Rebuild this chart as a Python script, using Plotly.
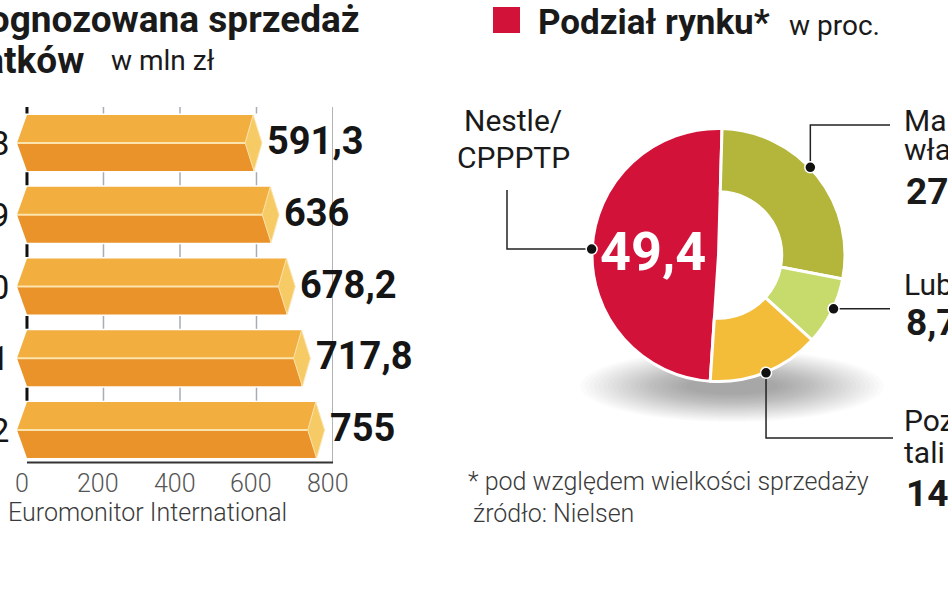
import math
import plotly.graph_objects as go

W, H = 948, 593

# ---------------- data ----------------
years = ["2008", "2009", "2010", "2011", "2012"]
sales = [591.3, 636, 678.2, 717.8, 755]
sales_text = ["591,3", "636", "678,2", "717,8", "755"]
x_ticks = [0, 200, 400, 600, 800]

share_names = ["Marki własne", "Lubella", "Pozostali", "Nestle/CPPPTP"]
share_values = [27.6, 8.7, 14.3, 49.4]
share_text = ["27,6", "8,7", "14,3", "49,4"]
share_colors = ["#B4B53B", "#C7DA6C", "#F4BD39", "#D3123A"]

# ---------------- helpers ----------------
FONT = "Roboto, 'DejaVu Sans', sans-serif"


def px(x):
    return x / W


def py(y):
    return 1 - y / H


fig = go.Figure()


def ann(text, x, y, size, anchor="left", weight="normal", color="#1a1a1a", **kw):
    fig.add_annotation(text=text, x=px(x), y=py(y), xref="paper", yref="paper",
                       xanchor=anchor, yanchor="middle", showarrow=False,
                       font=dict(family=FONT, size=size, color=color, weight=weight), **kw)


# ---------------- bar chart ----------------
TOP_C, BOT_C, CAP_C, EDGE_C = "#F2AE3F", "#E9932A", "#F6CB66", "#FCE4AE"
HALF = 0.39
idx = list(range(len(years)))

fig.add_trace(go.Bar(y=idx, x=sales, orientation="h", width=HALF, offset=-HALF,
                     marker=dict(color=TOP_C, line=dict(width=0)), hoverinfo="skip",
                     xaxis="x", yaxis="y"))
fig.add_trace(go.Bar(y=idx, x=sales, orientation="h", width=HALF, offset=0,
                     marker=dict(color=BOT_C, line=dict(width=0)), hoverinfo="skip",
                     xaxis="x", yaxis="y"))

TIP = -26      # pointed left end (data units)
CAP_OUT = 23   # cap tip beyond value
CAP_IN = 21    # cap inner vertex before value
for i, v in zip(idx, sales):
    fig.add_shape(type="path", xref="x", yref="y", layer="above", line=dict(width=0),
                  fillcolor=TOP_C, path=f"M 0 {i-HALF} L {TIP} {i} L 0 {i} Z")
    fig.add_shape(type="path", xref="x", yref="y", layer="above", line=dict(width=0),
                  fillcolor=BOT_C, path=f"M 0 {i} L {TIP} {i} L 0 {i+HALF} Z")
    fig.add_shape(type="line", xref="x", yref="y", layer="above",
                  x0=TIP, x1=v - CAP_IN, y0=i, y1=i, line=dict(color=EDGE_C, width=2))
    fig.add_shape(type="path", xref="x", yref="y", layer="above",
                  fillcolor=CAP_C, line=dict(color=EDGE_C, width=1),
                  path=f"M {v} {i-HALF} L {v+CAP_OUT} {i} L {v+2} {i+HALF} L {v-CAP_IN} {i} Z")
    fig.add_annotation(text=sales_text[i], x=v, y=i, xref="x", yref="y", xanchor="left",
                       yanchor="middle", xshift=12, yshift=2, showarrow=False,
                       font=dict(family=FONT, size=38, color="#151515", weight="bold"))
    fig.add_annotation(text=years[i], x=px(11), y=i, xref="paper", yref="y", xanchor="right",
                       yanchor="middle", showarrow=False,
                       font=dict(family=FONT, size=34, color="#151515"))

# x tick labels
for t in x_ticks:
    fig.add_annotation(text=str(t), x=t, y=py(483), xref="x", yref="paper", xanchor="center",
                       yanchor="middle", xshift=-5, showarrow=False,
                       font=dict(family=FONT, size=25, color="#555", weight=300))

# small tick marks in the gaps
for k in idx:
    b = k - 0.5
    for t in x_ticks[:-1]:
        fig.add_shape(type="line", xref="x", yref="y", layer="below",
                      x0=t, x1=t, y0=b - 0.09, y1=b + 0.09,
                      line=dict(color="#111" if t == 0 else "#A8ADB5", width=3 if t == 0 else 1.5))
fig.add_shape(type="line", xref="x", yref="y", layer="below",
              x0=x_ticks[-1], x1=x_ticks[-1], y0=-0.5, y1=4.45,
              line=dict(color="#9A9A9A", width=1.5))
fig.add_shape(type="line", xref="x", yref="y", layer="above",
              x0=x_ticks[0], x1=x_ticks[-1], y0=4.45, y1=4.45,
              line=dict(color="#333", width=2))

# ---------------- donut chart ----------------
CX, CY, R = 718.5, 255, 126.5
ROT = 1.6
n = len(share_values)
nest = n - 1
full_colors = ["rgba(0,0,0,0)"] * n
full_colors[nest] = share_colors[nest]
full_w = [0] * n
full_w[nest] = 3
ring_colors = list(share_colors)
ring_colors[nest] = "rgba(0,0,0,0)"
ring_w = [3] * n
ring_w[nest] = 0
dom = dict(x=[px(CX - R), px(CX + R)], y=[py(CY + R), py(CY - R)])

# soft shadow under the donut
for j in range(24):
    rx, ry = 152 - j * 4.6, 36 - j * 1.2
    fig.add_shape(type="circle", xref="paper", yref="paper", layer="below",
                  x0=px(732 - rx), x1=px(732 + rx), y0=py(386 + ry), y1=py(386 - ry),
                  fillcolor="rgba(0,0,0,0.016)", line=dict(width=0))

fig.add_trace(go.Pie(values=share_values, labels=share_names, sort=False, direction="clockwise",
                     rotation=ROT, hole=0, domain=dom, textinfo="none", hoverinfo="skip",
                     marker=dict(colors=full_colors, line=dict(color="white", width=full_w)),
                     showlegend=False))
fig.add_trace(go.Pie(values=share_values, labels=share_names, sort=False, direction="clockwise",
                     rotation=ROT, hole=0.5, domain=dom, textinfo="none", hoverinfo="skip",
                     marker=dict(colors=ring_colors, line=dict(color="white", width=ring_w)),
                     showlegend=False))

# leader lines with dots
total = sum(share_values)
dot_frac = [0.45, 0.45, 0.5, 0.5]
leaders = [[("v", 125), ("h", 890)], [("h", 890)], [("v", 438), ("h", 893)], [("h", 507), ("v", 190)]]
cum = 0
for k, v in enumerate(share_values):
    ang = math.radians(ROT + 360 * (cum + dot_frac[k] * v) / total)
    cum += v
    dx, dy = CX + 127 * math.sin(ang), CY - 127 * math.cos(ang)
    pts = [(dx, dy)]
    for kind, val in leaders[k]:
        lx, ly = pts[-1]
        pts.append((lx, val) if kind == "v" else (val, ly))
    path = "M " + " L ".join(f"{px(a)} {py(b)}" for a, b in pts)
    fig.add_shape(type="path", xref="paper", yref="paper", layer="above", path=path,
                  line=dict(color="#222", width=1.5))
    fig.add_shape(type="circle", xref="paper", yref="paper", layer="above",
                  x0=px(dx - 5.5), x1=px(dx + 5.5), y0=py(dy + 5.5), y1=py(dy - 5.5),
                  fillcolor="#111", line=dict(color="white", width=1.5))

# donut labels
ann("Nestle/", 513, 121, 30, anchor="center")
ann("CPPPTP", 513, 157, 30, anchor="center")
ann(share_text[nest], 653, 251, 54, anchor="center", weight="bold", color="white")
ann("Marki", 902, 120, 30)
ann("własne", 902, 149, 30)
ann(share_text[0], 904, 191, 37, weight="bold")
ann("Lubella", 902, 284, 30)
ann(share_text[1], 904, 322, 37, weight="bold")
ann("Pozos-", 902, 420, 30)
ann("tali", 902, 452, 30)
ann(share_text[2], 904, 493, 37, weight="bold")

# titles
ann("Prognozowana sprzedaż", 362, 20, 37, anchor="right", weight="bold")
ann("płatków", 86, 60, 37, anchor="right", weight="bold")
ann("w mln zł", 109, 60, 28)
fig.add_shape(type="rect", xref="paper", yref="paper", x0=px(493), x1=px(520), y0=py(33), y1=py(7),
              fillcolor=share_colors[nest], line=dict(width=0))
ann("Podział rynku*", 536, 23, 35, weight="bold")
ann("w proc.", 787, 25, 28)

# notes
ann("Euromonitor International", 6, 512, 25, color="#3a3a3a", weight=300)
ann("* pod względem wielkości sprzedaży", 466, 481, 25, color="#3a3a3a", weight=300)
ann("źródło: Nielsen", 471, 513, 25, color="#3a3a3a", weight=300)

# ---------------- layout ----------------
fig.update_layout(
    width=W, height=H, autosize=False,
    margin=dict(l=0, r=0, t=0, b=0),
    paper_bgcolor="white", plot_bgcolor="rgba(0,0,0,0)",
    showlegend=False, barmode="overlay",
    xaxis=dict(domain=[px(15.5), px(333)], range=[-30, 800], showticklabels=False,
               showgrid=False, zeroline=False, showline=False, ticks="", fixedrange=True),
    yaxis=dict(domain=[py(466), py(107)], range=[4.5, -0.5], showgrid=False, zeroline=False,
               showline=False, showticklabels=False, ticks="", fixedrange=True),
)

fig.write_html("out.html", config={"staticPlot": True, "displayModeBar": False},
               post_script="document.body.style.margin='0';document.body.style.overflow='hidden';")
